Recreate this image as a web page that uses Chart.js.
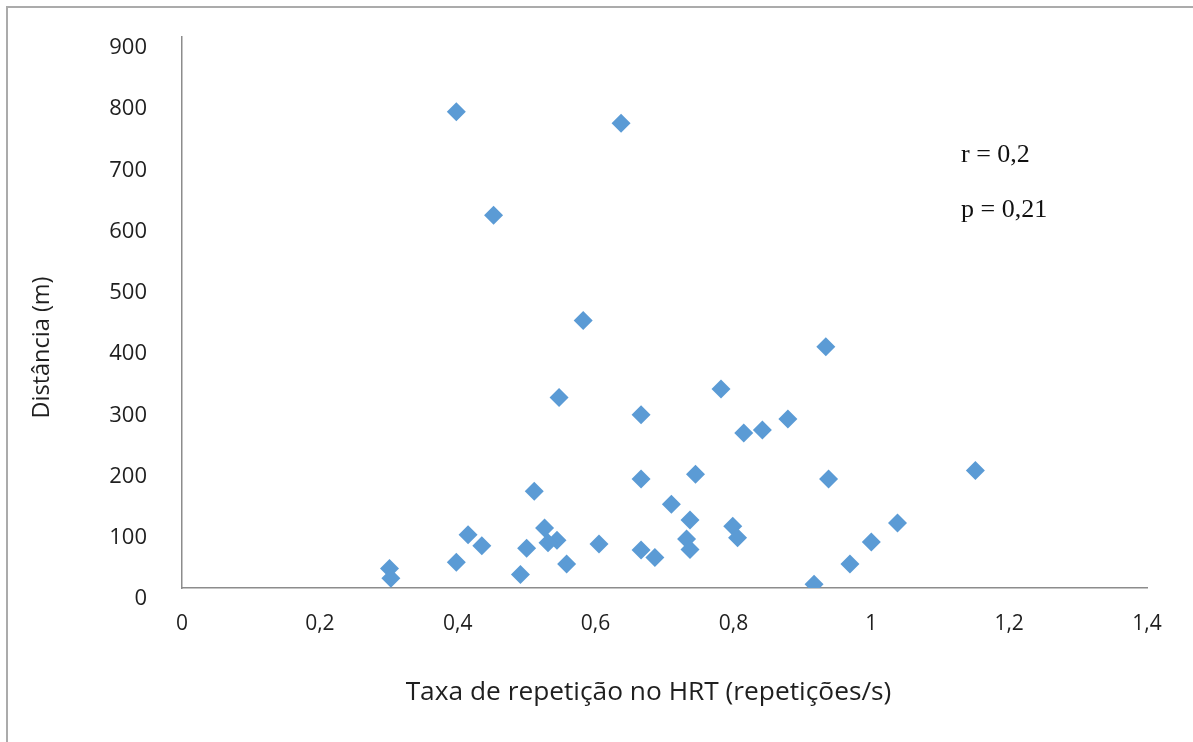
<!DOCTYPE html>
<html>
<head>
<meta charset="utf-8">
<script src="https://cdn.jsdelivr.net/npm/chart.js@4.4.1/dist/chart.umd.min.js"></script>
<style>
  html, body { margin: 0; padding: 0; background: #fff; }
  #wrap { position: relative; width: 1193px; height: 742px; overflow: hidden; }
  #frame { position: absolute; left: 6px; top: 6px; width: 1200px; height: 750px; border: 2px solid #ababab; }
  canvas { position: absolute; left: 0; top: 0; }
</style>
</head>
<body>
<div id="wrap">
  <div id="frame"></div>
  <canvas id="chart" width="1193" height="742"></canvas>
</div>
<script>
// taxa de repetição (repetições/s) x distância (m), one entry per participant
const taxaHRT = [0.398, 0.637, 0.452, 0.582, 0.547, 0.934, 0.782, 0.666, 0.879, 0.842,
                 0.815, 1.151, 0.745, 0.666, 0.938, 0.511, 0.710, 0.737, 1.038, 0.799,
                 0.526, 0.415, 0.806, 0.544, 0.732, 1.000, 0.605, 0.531, 0.435, 0.737,
                 0.500, 0.666, 0.686, 0.398, 0.558, 0.969, 0.491, 0.301, 0.303, 0.917];
const distancia = [778, 759, 609, 437, 311, 394, 325, 283, 276, 258,
                   253, 192, 186, 178, 178, 158, 137, 111, 106, 101,
                    98,  87,  82,  78,  80,  75,  72,  74,  69,  63,
                    65,  62,  50,  42,  39,  39,  22,  32,  16,   6];
const xTicks = [0, 0.2, 0.4, 0.6, 0.8, 1, 1.2, 1.4];
const yTicks = [0, 100, 200, 300, 400, 500, 600, 700, 800, 900];
const statsText = ['r = 0,2', 'p = 0,21'];
const xTitle = 'Taxa de repetição no HRT (repetições/s)';
const yTitle = 'Distância (m)';

const fmt = v => String(Math.round(v * 10) / 10).replace('.', ',');

// r / p annotation + axis titles
const annotations = {
  id: 'annotations',
  afterDraw(chart) {
    const {ctx, chartArea: a} = chart;
    ctx.save();
    ctx.fillStyle = '#111';
    ctx.font = '26px "Liberation Serif", "Times New Roman", serif';
    ctx.textBaseline = 'middle';
    ctx.textAlign = 'left';
    ctx.fillText(statsText[0], a.right - 186, a.top + 118);
    ctx.fillText(statsText[1], a.right - 186, a.top + 173);

    ctx.fillStyle = '#1f1f1f';
    ctx.font = '26.3px "Open Sans", sans-serif';
    ctx.textAlign = 'center';
    ctx.fillText(xTitle, (a.left + a.right) / 2 - 16, a.bottom + 105);

    ctx.font = '23.5px "Open Sans", sans-serif';
    ctx.translate(42, (a.top + a.bottom) / 2 + 35);
    ctx.rotate(-Math.PI / 2);
    ctx.fillText(yTitle, 0, 0);
    ctx.restore();
  }
};

new Chart(document.getElementById('chart'), {
  type: 'scatter',
  data: {
    datasets: [{
      data: taxaHRT.map((x, i) => ({x, y: distancia[i]})),
      pointStyle: 'rectRot',
      pointRadius: 9.5,
      pointHoverRadius: 9.5,
      backgroundColor: '#5b9bd5',
      borderColor: '#5b9bd5',
      borderWidth: 0
    }]
  },
  options: {
    responsive: false,
    animation: false,
    devicePixelRatio: 1,
    layout: {padding: {top: 37, right: 46, left: 0, bottom: 0}},
    plugins: {legend: {display: false}, tooltip: {enabled: false}},
    scales: {
      x: {
        type: 'linear', min: 0, max: 1.4,
        afterBuildTicks: s => { s.ticks = xTicks.map(v => ({value: v})); },
        afterFit: s => { s.height = 154; s.paddingLeft = 0; s.paddingRight = 0; },
        grid: {display: false, drawTicks: false},
        border: {display: true, color: '#8c8c8c', width: 1.5},
        ticks: {padding: 23, color: '#1f1f1f', font: {family: '"Open Sans", sans-serif', size: 21}, callback: fmt, maxRotation: 0}
      },
      y: {
        type: 'linear', min: 0, max: 900,
        afterBuildTicks: s => { s.ticks = yTicks.map(v => ({value: v})); },
        afterFit: s => { s.width = 182; s.paddingTop = 0; s.paddingBottom = 0; },
        grid: {display: false, drawTicks: false},
        border: {display: true, color: '#8c8c8c', width: 1.5},
        ticks: {padding: 35, labelOffset: 11, color: '#1f1f1f', font: {family: '"Open Sans", sans-serif', size: 22}}
      }
    }
  },
  plugins: [annotations]
});
</script>
</body>
</html>
